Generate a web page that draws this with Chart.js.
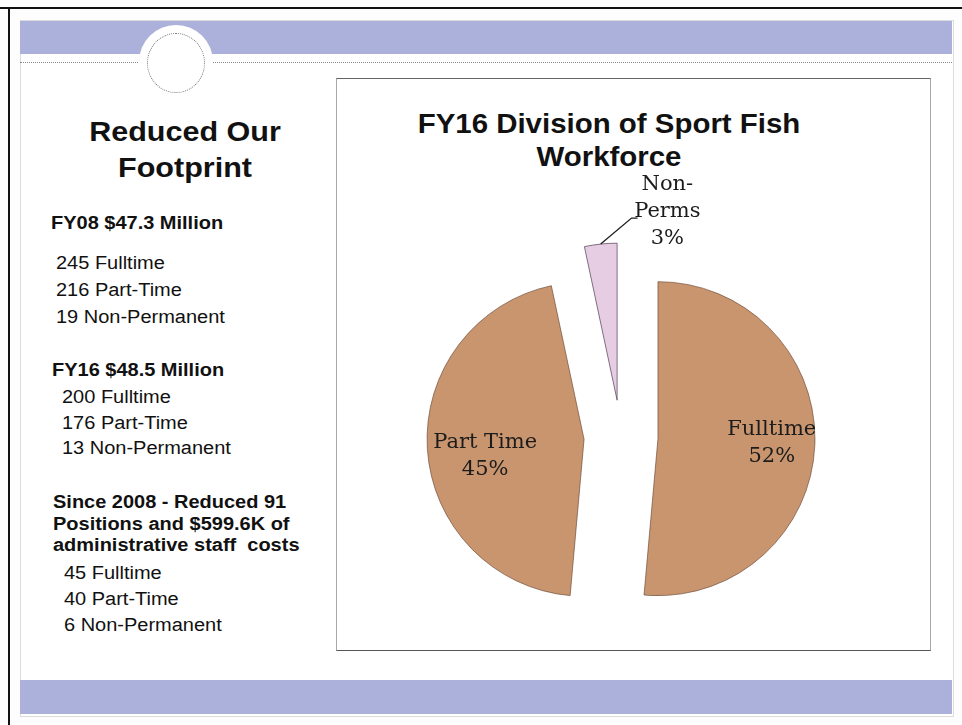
<!DOCTYPE html>
<html>
<head>
<meta charset="utf-8">
<title>FY16 Division of Sport Fish Workforce</title>
<script src="https://cdn.jsdelivr.net/npm/chart.js@4.4.0/dist/chart.umd.min.js"></script>
<style>
  body { margin: 0; background: #fff; }
  #hoja { position: relative; width: 962px; height: 725px; overflow: hidden; background: #fdfdfd; }
  .abs { position: absolute; }
  .t { position: absolute; white-space: pre; font-family: "Liberation Sans", Arial, sans-serif; color: #111;
       font-size: 18px; line-height: 20px; transform-origin: 0 50%; transform: scaleX(1.11); }
  .b { font-weight: bold; }
  .tit { position: absolute; font-family: "Liberation Sans", Arial, sans-serif; font-weight: bold; color: #111;
         text-align: center; white-space: pre; transform: scaleX(1.09); }
</style>
</head>
<body>
<div id="hoja">
  <!-- marco negro del escaneo -->
  <div class="abs" style="left:0;top:7px;width:962px;height:2px;background:#111;"></div>
  <div class="abs" style="left:8px;top:7px;width:2px;height:718px;background:#111;"></div>

  <!-- diapositiva -->
  <div class="abs" style="left:20px;top:20px;width:932px;height:695px;border:1px solid #dcdcdc;background:#fff;"></div>
  <div class="abs" style="left:20px;top:21px;width:932px;height:33px;background:#abb1da;"></div>
  <div class="abs" style="left:20px;top:680px;width:932px;height:34px;background:#abb1da;"></div>
  <div class="abs" style="left:20px;top:62px;width:932px;height:0;border-top:1px dotted #8a8a8a;"></div>
  <div class="abs" style="left:139px;top:25px;width:74px;height:74px;border-radius:50%;background:#fff;"></div>
  <div class="abs" style="left:147px;top:33px;width:56px;height:58px;border-radius:50%;border:1px dotted #777;background:#fff;"></div>

  <!-- texto izquierdo -->
  <div class="tit" style="left:60px;width:250px;top:115px;font-size:28px;line-height:34px;">Reduced Our</div>
  <div class="tit" style="left:60px;width:250px;top:151px;font-size:28px;line-height:34px;">Footprint</div>

  <div class="t b" style="left:51px;top:213px;">FY08 $47.3 Million</div>
  <div class="t" style="left:56px;top:253px;">245 Fulltime</div>
  <div class="t" style="left:56px;top:280px;">216 Part-Time</div>
  <div class="t" style="left:56px;top:307px;">19 Non-Permanent</div>

  <div class="t b" style="left:52px;top:360px;">FY16 $48.5 Million</div>
  <div class="t" style="left:62px;top:387px;">200 Fulltime</div>
  <div class="t" style="left:62px;top:413px;">176 Part-Time</div>
  <div class="t" style="left:62px;top:438px;">13 Non-Permanent</div>

  <div class="t b" style="left:53px;top:492px;">Since 2008 - Reduced 91</div>
  <div class="t b" style="left:53px;top:514px;">Positions and $599.6K of</div>
  <div class="t b" style="left:53px;top:535px;">administrative staff  costs</div>
  <div class="t" style="left:64px;top:563px;">45 Fulltime</div>
  <div class="t" style="left:64px;top:589px;">40 Part-Time</div>
  <div class="t" style="left:64px;top:615px;">6 Non-Permanent</div>

  <!-- caja del grafico -->
  <div class="abs" style="left:336px;top:78px;width:593px;height:571px;border:1px solid #a8a8a8;border-top-color:#666;border-bottom-color:#555;"></div>
  <div class="tit" style="left:409px;width:400px;top:107px;font-size:27px;line-height:34px;">FY16 Division of Sport Fish</div>
  <div class="tit" style="left:409px;width:400px;top:140px;font-size:27px;line-height:34px;">Workforce</div>
  <canvas id="pieChart" class="abs" width="592" height="570" style="left:337px;top:79px;"></canvas>
</div>

<script>
// datos FY16 (personal por tipo) y etiquetas tal como salen en el grafico
const categorias = ["Fulltime", "Part Time", "Non-Perms"];
const valores = [200, 176, 13];
const porcentajes = ["52%", "45%", "3%"];
const nombresSlice = [["Fulltime"], ["Part Time"], ["Non-", "Perms"]];

// separacion de cada trozo (pie explotado), en px
const separacion = [37, 37, 37];
// posicion de cada etiqueta, en radios desde el centro de su trozo
const posEtiquetas = [[0.725, 0.03], [-0.63, 0.11], [0.32, -1.2]];
// linea guia solo para Non-Perms
const lineaGuia = [null, null, [[0.092, -1.16], [0.13, -1.16]]];

function centroTrozo(arc, i) {
  const p = arc.getProps(["x", "y", "startAngle", "endAngle", "outerRadius"], true);
  const mid = (p.startAngle + p.endAngle) / 2;
  return {
    x: p.x + Math.cos(mid) * separacion[i],
    y: p.y + Math.sin(mid) * separacion[i],
    mid: mid,
    r: p.outerRadius,
  };
}

const pieExplotado = {
  id: "pieExplotado",
  beforeDatasetDraw(chart, args) {
    const c = chart.ctx;
    args.meta.data.forEach((arc, i) => {
      const q = centroTrozo(arc, i);
      c.save();
      c.translate(q.x - arc.x, q.y - arc.y);
      arc.draw(c);
      c.restore();
    });
    return false;
  },
  afterDatasetsDraw(chart) {
    const c = chart.ctx;
    const meta = chart.getDatasetMeta(0);
    c.save();
    c.font = '21px "DejaVu Serif", serif';
    c.fillStyle = "#1c1c1c";
    c.strokeStyle = "#1c1c1c";
    c.lineWidth = 1.3;
    c.textAlign = "center";
    c.textBaseline = "middle";
    meta.data.forEach((arc, i) => {
      const q = centroTrozo(arc, i);
      const lx = q.x + posEtiquetas[i][0] * q.r;
      const ly = q.y + posEtiquetas[i][1] * q.r;
      const lineas = [...nombresSlice[i], porcentajes[i]];
      lineas.forEach((t, j) => {
        c.fillText(t, lx, ly + (j - (lineas.length - 1) / 2) * 27);
      });
      if (lineaGuia[i]) {
        c.beginPath();
        c.moveTo(q.x + Math.cos(q.mid) * q.r, q.y + Math.sin(q.mid) * q.r);
        lineaGuia[i].forEach((p) => c.lineTo(q.x + p[0] * q.r, q.y + p[1] * q.r));
        c.stroke();
      }
    });
    c.restore();
  },
};

const ctx = document.getElementById("pieChart").getContext("2d");
new Chart(ctx, {
  type: "pie",
  data: {
    labels: categorias,
    datasets: [
      {
        label: "FY16 Workforce",
        data: valores,
        backgroundColor: ["#c8956f", "#c8956f", "#e6cde4"],
        borderColor: ["rgba(95,60,40,0.6)", "rgba(95,60,40,0.6)", "rgba(80,60,80,0.7)"],
        borderWidth: 1,
      },
    ],
  },
  options: {
    responsive: false,
    animation: false,
    radius: 157,
    layout: {
      padding: { left: 0, right: 24, top: 146, bottom: 0 },
    },
    plugins: {
      legend: { display: false },
      title: { display: false },
      tooltip: { enabled: false },
    },
  },
  plugins: [pieExplotado],
});
</script>
</body>
</html>
